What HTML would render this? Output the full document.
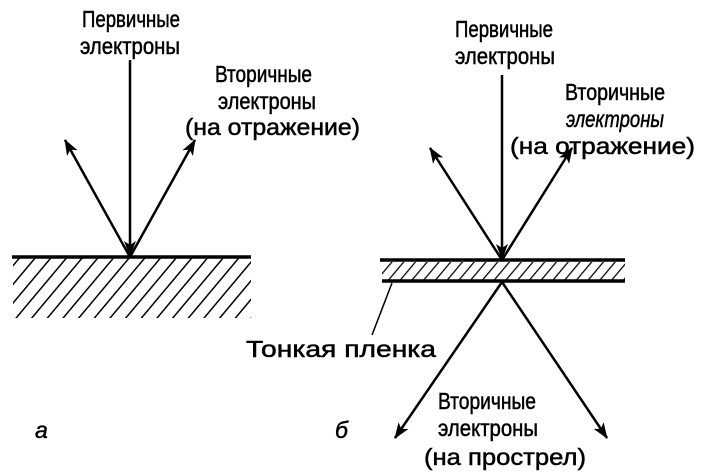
<!DOCTYPE html>
<html><head><meta charset="utf-8"><style>
html,body{margin:0;padding:0;background:#fff;}
svg{display:block}
text{font-family:"Liberation Sans",sans-serif;font-size:23px;fill:#000;stroke:#000;stroke-width:0.5}
</style></head><body>
<svg width="719" height="475" viewBox="0 0 719 475" xmlns="http://www.w3.org/2000/svg">
<defs>
<pattern id="h" width="12" height="12" patternUnits="userSpaceOnUse" patternTransform="rotate(40)">
<line x1="0" y1="0" x2="0" y2="12" stroke="#000" stroke-width="3"/>
</pattern>
<pattern id="h2" width="9" height="9" patternUnits="userSpaceOnUse" patternTransform="rotate(40)">
<line x1="0" y1="0" x2="0" y2="9" stroke="#000" stroke-width="2.5"/>
</pattern>
<marker id="b" markerWidth="16" markerHeight="16" refX="15" refY="8" orient="auto" markerUnits="userSpaceOnUse" viewBox="0 0 16 16">
<path d="M0,2 L16,8 L0,14 L4,8 z" fill="#000"/>
</marker>
</defs>
<!-- left -->
<rect x="13" y="258" width="238" height="60" fill="url(#h)"/>
<line x1="12" y1="257" x2="251" y2="257" stroke="#000" stroke-width="3.5"/>
<g stroke="#000" stroke-width="2.5" fill="none">
<line x1="130" y1="60" x2="130" y2="256" marker-end="url(#b)"/>
<line x1="130" y1="257" x2="65" y2="140" marker-end="url(#b)"/>
<line x1="130" y1="257" x2="195" y2="140" marker-end="url(#b)"/>
</g>
<text x="82" y="27" textLength="98" lengthAdjust="spacingAndGlyphs">Первичные</text>
<text x="80" y="54" textLength="100" lengthAdjust="spacingAndGlyphs">электроны</text>
<text x="215" y="82" textLength="97" lengthAdjust="spacingAndGlyphs">Вторичные</text>
<text x="218" y="109" textLength="98" lengthAdjust="spacingAndGlyphs">электроны</text>
<text x="185" y="135" textLength="175" lengthAdjust="spacingAndGlyphs">(на отражение)</text>
<text x="35" y="438" font-style="italic" font-size="24">а</text>
<!-- right -->
<rect x="382" y="262" width="243" height="18" fill="url(#h2)"/>
<line x1="380" y1="260" x2="625" y2="260" stroke="#000" stroke-width="3.5"/>
<line x1="382" y1="281" x2="625" y2="281" stroke="#000" stroke-width="3.5"/>
<g stroke="#000" stroke-width="2.5" fill="none">
<line x1="502" y1="75" x2="502" y2="259" marker-end="url(#b)"/>
<line x1="502" y1="260" x2="430" y2="148" marker-end="url(#b)"/>
<line x1="502" y1="260" x2="572" y2="148" marker-end="url(#b)"/>
<line x1="502" y1="282" x2="395" y2="438" marker-end="url(#b)"/>
<line x1="502" y1="282" x2="607" y2="438" marker-end="url(#b)"/>
<line x1="392" y1="283" x2="372" y2="335" stroke-width="1.5"/>
</g>
<text x="455" y="37" textLength="98" lengthAdjust="spacingAndGlyphs">Первичные</text>
<text x="455" y="64" textLength="100" lengthAdjust="spacingAndGlyphs">электроны</text>
<text x="565" y="100" textLength="100" lengthAdjust="spacingAndGlyphs">Вторичные</text>
<text x="566" y="127" textLength="98" lengthAdjust="spacingAndGlyphs" font-style="italic">электроны</text>
<text x="510" y="154" textLength="185" lengthAdjust="spacingAndGlyphs">(на отражение)</text>
<text x="246" y="357" textLength="190" lengthAdjust="spacingAndGlyphs">Тонкая пленка</text>
<text x="335" y="438" font-style="italic" font-size="24">б</text>
<text x="438" y="409" textLength="98" lengthAdjust="spacingAndGlyphs">Вторичные</text>
<text x="438" y="436" textLength="100" lengthAdjust="spacingAndGlyphs">электроны</text>
<text x="424" y="465" textLength="162" lengthAdjust="spacingAndGlyphs">(на прострел)</text>
</svg>
</body></html>
